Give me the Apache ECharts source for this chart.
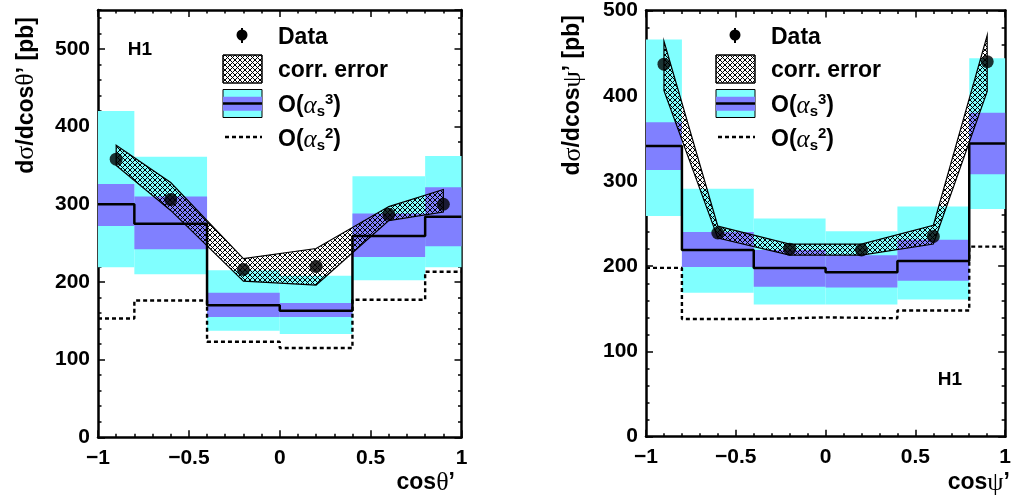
<!DOCTYPE html>
<html><head><meta charset="utf-8">
<script src="https://cdn.jsdelivr.net/npm/echarts@6/dist/echarts.min.js"></script>
<style>html,body{margin:0;padding:0;background:#fff}#c{width:1014px;height:498px}</style>
</head><body><div id="c"></div>
<script>
// ---- data ----
const binEdges = [-1, -0.8, -0.4, 0, 0.4, 0.8, 1];
const dataX = [-0.9, -0.6, -0.2, 0.2, 0.6, 0.9];
const xTicks = [-1, -0.5, 0, 0.5, 1];
// cos theta' panel
const thData = [358, 306, 216, 220, 287, 300];
const thCorrUp = [376, 328, 230, 243, 297, 319];
const thCorrLo = [350, 292, 201, 196, 279, 290];
const thNLO = [300, 275, 170, 163, 259, 284];
const thNLOinLo = [272, 242, 155, 155, 232, 246];
const thNLOinHi = [326, 310, 186, 173, 288, 322];
const thNLOoutLo = [219, 210, 137, 133, 202, 219];
const thNLOoutHi = [420, 361, 215, 208, 336, 362];
const thLO = [153, 176, 123, 115, 177, 213];
// cos psi' panel
const psData = [437, 239, 220, 219, 235, 440];
const psCorrUp = [464, 247, 226, 226, 248, 471];
const psCorrLo = [406, 233, 213, 213, 226, 405];
const psNLO = [341, 219, 198, 193, 206, 344];
const psNLOinLo = [313, 199, 176, 175, 183, 308];
const psNLOinHi = [369, 240, 219, 213, 231, 380];
const psNLOoutLo = [259, 169, 155, 155, 161, 267];
const psNLOoutHi = [466, 291, 256, 241, 270, 444];
const psLO = [198, 138, 140, 139, 148, 223];

// ---- styles ----
const CYAN = '#80ffff', BLUE = '#8080ff';
const FONT = 'Liberation Sans';
const SYM = 'Liberation Serif';

function hatchCanvas() {
  const n = 5;
  const c = document.createElement('canvas');
  c.width = n; c.height = n;
  const g = c.getContext('2d');
  g.fillStyle = '#000';
  for (let i = 0; i < n; i++) {
    g.fillRect(i, i, 1, 1);
    g.fillRect(i, n - 1 - i, 1, 1);
  }
  return c;
}
const hatch = { image: hatchCanvas(), repeat: 'repeat' };

const minus = v => (v < 0 ? '\u2212' : '') + Math.abs(v);

function xAxes(grid) {
  const base = {
    type: 'value', gridIndex: grid, min: -1, max: 1, interval: 0.5,
    splitLine: { show: false },
    axisLine: { show: true, onZero: false, lineStyle: { color: '#000', width: 2.5 } },
    axisTick: { show: true, inside: true, length: 7, lineStyle: { color: '#000', width: 1.5 } },
    minorTick: { show: true, splitNumber: 5, length: 3.5, lineStyle: { color: '#000', width: 1.5 } }
  };
  return [
    Object.assign({}, base, { position: 'bottom', axisLabel: { show: true, margin: 10, color: '#000', fontSize: 21, fontWeight: 'bold', fontFamily: FONT, formatter: minus, showMinLabel: true, showMaxLabel: true } }),
    Object.assign({}, base, { position: 'top', axisLabel: { show: false } })
  ];
}
function yAxes(grid, max, showMax) {
  const base = { type: 'value', gridIndex: grid, min: 0, max: max, splitLine: { show: false } };
  const major = { interval: 100, axisLine: { show: true, onZero: false, lineStyle: { color: '#000', width: 2.5 } },
    axisTick: { show: true, inside: true, length: 7, lineStyle: { color: '#000', width: 1.5 } } };
  const minor = { interval: 20, axisLine: { show: false, onZero: false },
    axisTick: { show: true, inside: true, length: 3.5, lineStyle: { color: '#000', width: 1.5 } }, axisLabel: { show: false } };
  return [
    Object.assign({}, base, major, { position: 'left', axisLabel: { show: true, margin: 8, color: '#000', fontSize: 21, fontWeight: 'bold', fontFamily: FONT, showMaxLabel: showMax, showMinLabel: true } }),
    Object.assign({}, base, minor, { position: 'left' }),
    Object.assign({}, base, major, { position: 'right', axisLabel: { show: false } }),
    Object.assign({}, base, minor, { position: 'right' })
  ];
}

function bandSeries(xi, yi, lo, hi, color) {
  return {
    type: 'custom', xAxisIndex: xi, yAxisIndex: yi, silent: true,
    data: lo.map((l, i) => [binEdges[i], binEdges[i + 1], l, hi[i]]),
    encode: { x: [0, 1], y: [2, 3] },
    renderItem: (params, api) => {
      const p1 = api.coord([api.value(0), api.value(3)]);
      const p2 = api.coord([api.value(1), api.value(2)]);
      return { type: 'rect', shape: { x: p1[0], y: p1[1], width: p2[0] - p1[0], height: p2[1] - p1[1] }, style: { fill: color } };
    }
  };
}
function stepSeries(xi, yi, vals, style) {
  return {
    type: 'line', xAxisIndex: xi, yAxisIndex: yi, step: 'end', symbol: 'none', silent: true,
    data: binEdges.map((e, i) => [e, vals[Math.min(i, vals.length - 1)]]),
    lineStyle: style
  };
}
function corrSeries(xi, yi, up, lo) {
  return {
    type: 'custom', xAxisIndex: xi, yAxisIndex: yi, silent: true,
    data: dataX.map((x, i) => [x, up[i], lo[i]]),
    encode: { x: 0, y: [1, 2] },
    renderItem: (params, api) => {
      if (params.dataIndex !== 0) return null;
      const pts = [];
      for (let i = 0; i < dataX.length; i++) pts.push(api.coord([dataX[i], up[i]]));
      for (let i = dataX.length - 1; i >= 0; i--) pts.push(api.coord([dataX[i], lo[i]]));
      return { type: 'polygon', shape: { points: pts }, style: { fill: hatch, stroke: '#000', lineWidth: 1.2 } };
    }
  };
}
function dataSeries(xi, yi, vals) {
  return {
    type: 'scatter', xAxisIndex: xi, yAxisIndex: yi, symbol: 'circle', symbolSize: 13, silent: true,
    itemStyle: { color: '#000' },
    data: dataX.map((x, i) => [x, vals[i]])
  };
}
function panelSeries(xi, yi, d) {
  return [
    bandSeries(xi, yi, d.outLo, d.outHi, CYAN),
    bandSeries(xi, yi, d.inLo, d.inHi, BLUE),
    stepSeries(xi, yi, d.nlo, { color: '#000', width: 2.5 }),
    stepSeries(xi, yi, d.lo, { color: '#000', width: 2.4, type: [4, 3] }),
    corrSeries(xi, yi, d.up, d.low),
    dataSeries(xi, yi, d.data)
  ];
}

const richSym = {
  g: { fontFamily: SYM, fontWeight: 'normal', fontSize: 26, color: '#000' }
};
const richAlpha = () => ({
  a: { fontFamily: SYM, fontStyle: 'italic', fontWeight: 'normal', fontSize: 25, color: '#000' },
  s: { fontFamily: FONT, fontWeight: 'bold', fontSize: 15, color: '#000', padding: [12, 0, 0, 0] },
  p: { fontFamily: FONT, fontWeight: 'bold', fontSize: 15, color: '#000', padding: [0, 0, 12, 0] }
});
function txt(x, y, text, opts) {
  return {
    type: 'text', x: x, y: y, silent: true,
    style: Object.assign({ text: text, fill: '#000', fontFamily: FONT, fontWeight: 'bold', fontSize: 23,
      textAlign: 'left', align: 'left', textVerticalAlign: 'middle', verticalAlign: 'middle' }, opts || {})
  };
}
function legend(ox) {
  return [
    { type: 'line', silent: true, shape: { x1: 242 + ox, y1: 28, x2: 242 + ox, y2: 43 }, style: { stroke: '#000', lineWidth: 2 } },
    { type: 'circle', silent: true, shape: { cx: 242 + ox, cy: 35, r: 5.5 }, style: { fill: '#000' } },
    txt(278 + ox, 38, 'Data'),
    { type: 'rect', silent: true, shape: { x: 223 + ox, y: 55, width: 39, height: 28 }, style: { fill: '#fff', stroke: '#000', lineWidth: 1 } },
    { type: 'rect', silent: true, shape: { x: 223 + ox, y: 55, width: 39, height: 28 }, style: { fill: hatch, stroke: '#000', lineWidth: 1 } },
    txt(278 + ox, 71, 'corr. error'),
    { type: 'rect', silent: true, shape: { x: 223 + ox, y: 89.5, width: 39, height: 28 }, style: { fill: CYAN, stroke: '#000', lineWidth: 1 } },
    { type: 'rect', silent: true, shape: { x: 223 + ox, y: 96.7, width: 39, height: 14 }, style: { fill: BLUE } },
    { type: 'line', silent: true, shape: { x1: 223 + ox, y1: 103.5, x2: 262 + ox, y2: 103.5 }, style: { stroke: '#000', lineWidth: 2.5 } },
    txt(278 + ox, 106, 'O({a|\u03b1}{s|s}{p|3})', { rich: richAlpha() }),
    { type: 'line', silent: true, shape: { x1: 225 + ox, y1: 137, x2: 262 + ox, y2: 137 }, style: { stroke: '#000', lineWidth: 2.4, lineDash: [4, 3] } },
    txt(278 + ox, 140, 'O({a|\u03b1}{s|s}{p|2})', { rich: richAlpha() })
  ];
}

const option = {
  animation: false,
  backgroundColor: '#fff',
  grid: [
    { left: 98, top: 10, width: 363.5, height: 427.3 },
    { left: 646, top: 8.3, width: 363.5, height: 428.4 }
  ],
  xAxis: xAxes(0).concat(xAxes(1)),
  yAxis: yAxes(0, 550, false).concat(yAxes(1, 500, true)),
  series: panelSeries(0, 0, { outLo: thNLOoutLo, outHi: thNLOoutHi, inLo: thNLOinLo, inHi: thNLOinHi, nlo: thNLO, lo: thLO, up: thCorrUp, low: thCorrLo, data: thData })
    .concat(panelSeries(2, 4, { outLo: psNLOoutLo, outHi: psNLOoutHi, inLo: psNLOinLo, inHi: psNLOinHi, nlo: psNLO, lo: psLO, up: psCorrUp, low: psCorrLo, data: psData })),
  graphic: { elements: [].concat(
    legend(0), legend(493),
    [
      txt(140, 50, 'H1', { fontSize: 19, textAlign: 'center', align: 'center' }),
      txt(950, 380, 'H1', { fontSize: 19, textAlign: 'center', align: 'center' }),
      Object.assign(txt(26.5, 17, 'd{g|\u03c3}/dcos{g|\u03b8}\u2019 [pb]', { textAlign: 'right', align: 'right', rich: richSym }), { rotation: Math.PI / 2 }),
      Object.assign(txt(573, 15, 'd{g|\u03c3}/dcos{g|\u03c8}\u2019 [pb]', { textAlign: 'right', align: 'right', rich: richSym }), { rotation: Math.PI / 2 }),
      txt(455, 483, 'cos{g|\u03b8}\u2019', { textAlign: 'right', align: 'right', rich: richSym }),
      txt(1010, 483, 'cos{g|\u03c8}\u2019', { textAlign: 'right', align: 'right', rich: richSym })
    ]) }
};
const chart = echarts.init(document.getElementById('c'));
chart.setOption(option);
</script></body></html>
